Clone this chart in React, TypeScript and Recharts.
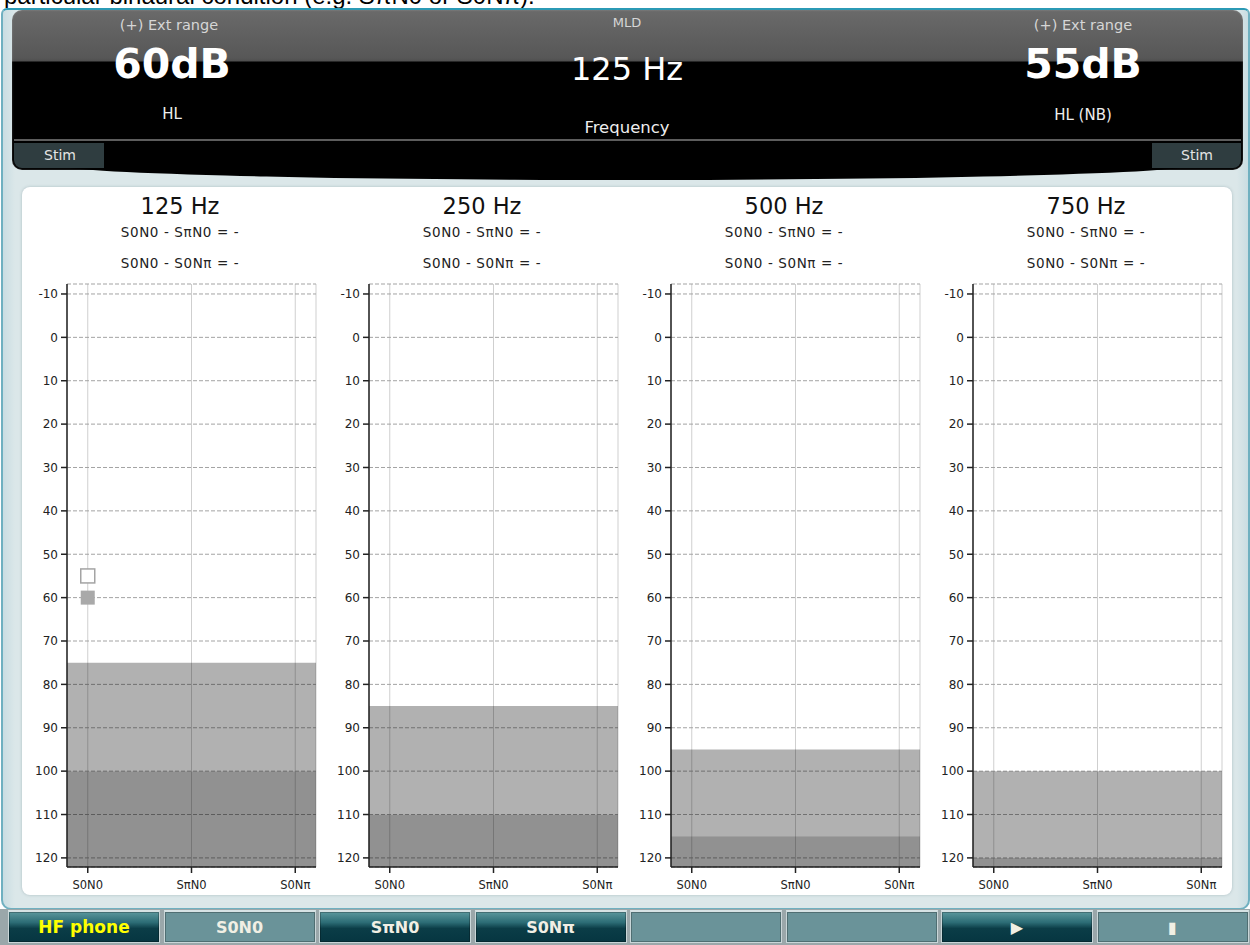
import React from 'react';
import { ComposedChart, XAxis, YAxis, CartesianGrid, ReferenceArea, Scatter } from 'recharts';

const topCaption = 'particular binaural condition (e.g. S\u03c0N0 or S0N\u03c0).';
const frequencies = ['125 Hz', '250 Hz', '500 Hz', '750 Hz'];
const conditions = ['S0N0', 'S\u03c0N0', 'S0N\u03c0'];
const conditionIndex = [0, 1, 2];
const dbTicks = [-10, 0, 10, 20, 30, 40, 50, 60, 70, 80, 90, 100, 110, 120];
const lightBandTop = [75, 85, 95, 100];
const darkBandTop = [100, 110, 115, 120];
const openMarkers = [[{ x: 0, y: 55 }], [], [], []];
const filledMarkers = [[{ x: 0, y: 60 }], [], [], []];
const mldSpiN0 = ['-', '-', '-', '-'];
const mldS0Npi = ['-', '-', '-', '-'];
const headerLeft = { top: '(+) Ext range', value: '60dB', unit: 'HL' };
const headerMid = { top: 'MLD', value: '125 Hz', unit: 'Frequency' };
const headerRight = { top: '(+) Ext range', value: '55dB', unit: 'HL (NB)' };
const buttonLabels = ['HF phone', 'S0N0', 'S\u03c0N0', 'S0N\u03c0', '', '', '\u25B6', '\u25AE'];
const buttonDark = [true, false, true, true, false, false, true, false];

const Y_DOMAIN: [number, number] = [-12.3, 122.1];
const FONT = '"DejaVu Sans", Verdana, sans-serif';

function Txt(props: any) {
  const { x, y, size, color = '#000', weight = 400, spacing = 0, family = FONT, children } = props;
  return (
    <div
      style={{
        position: 'absolute',
        left: x,
        top: y,
        transform: 'translate(-50%, -50%)',
        whiteSpace: 'nowrap',
        fontSize: size,
        color,
        fontWeight: weight,
        letterSpacing: spacing,
        fontFamily: family,
        lineHeight: 1,
      }}
    >
      {children}
    </div>
  );
}

const OpenSquare = (p: any) => (
  <rect x={p.cx - 7} y={p.cy - 7} width={14} height={14} fill="#fff" stroke="#a4a4a4" strokeWidth={1.5} />
);
const FilledSquare = (p: any) => (
  <rect x={p.cx - 7} y={p.cy - 7} width={14} height={14} fill="#a9a9a9" stroke="none" />
);

function MldChart({ i }: { i: number }) {
  return (
    <ComposedChart
      width={300}
      height={612}
      margin={{ top: 4, right: 6, bottom: 0, left: 0 }}
      style={{ fontFamily: FONT }}
    >
      <CartesianGrid horizontal={false} vertical={true} stroke="#cfcfcf" strokeWidth={1} />
      <CartesianGrid horizontal={true} vertical={false} stroke="#a3a3a3" strokeDasharray="4 2" />
      <XAxis
        type="number"
        dataKey="x"
        domain={[-0.2, 2.2]}
        ticks={conditionIndex}
        interval={0}
        allowDataOverflow
        tickFormatter={(v: number) => conditions[v]}
        height={25}
        tickSize={6}
        tickMargin={8}
        axisLine={{ stroke: '#222', strokeWidth: 1.5 }}
        tickLine={{ stroke: '#222', strokeWidth: 1.5 }}
        tick={{ fill: '#222', fontSize: 11.5, fontFamily: FONT }}
      />
      <YAxis
        type="number"
        dataKey="y"
        reversed
        domain={Y_DOMAIN}
        ticks={dbTicks}
        interval={0}
        allowDataOverflow
        width={45}
        tickSize={6}
        tickMargin={3}
        axisLine={{ stroke: '#222', strokeWidth: 1.5 }}
        tickLine={{ stroke: '#222', strokeWidth: 1.5 }}
        tick={{ fill: '#222', fontSize: 12, fontFamily: FONT }}
      />
      <ReferenceArea y1={lightBandTop[i]} y2={darkBandTop[i]} fill="#000" fillOpacity={0.305} stroke="none" ifOverflow="hidden" />
      <ReferenceArea y1={darkBandTop[i]} y2={Y_DOMAIN[1]} fill="#000" fillOpacity={0.43} stroke="none" ifOverflow="hidden" />
      <Scatter data={openMarkers[i]} shape={OpenSquare} isAnimationActive={false} />
      <Scatter data={filledMarkers[i]} shape={FilledSquare} isAnimationActive={false} />
    </ComposedChart>
  );
}

export default function App() {
  return (
    <div
      style={{
        position: 'absolute',
        left: 0,
        top: 0,
        width: 1250,
        height: 945,
        background: '#fff',
        overflow: 'hidden',
        fontFamily: FONT,
      }}
    >
      {/* clipped caption */}
      <div style={{ position: 'absolute', left: 0, top: 0, width: 1250, height: 8, overflow: 'hidden' }}>
        <div
          style={{
            position: 'absolute',
            left: 4,
            top: -16,
            fontFamily: '"Liberation Sans", Arial, sans-serif',
            fontSize: 24,
            lineHeight: 1,
            whiteSpace: 'nowrap',
            color: '#000',
          }}
        >
          {topCaption}
        </div>
      </div>

      {/* outer frame */}
      <div
        style={{
          position: 'absolute',
          left: 1,
          top: 8,
          width: 1245,
          height: 898,
          background: 'linear-gradient(to right, #c9dde2 0px, #dbe7e9 12px, #dbe7e9 1234px, #c9dde2 1245px)',
          border: '2px solid #6fb0c0',
          borderTopColor: '#2b9ab5',
          borderRadius: '6px 6px 10px 10px',
        }}
      />

      {/* header panel */}
      <div
        style={{
          position: 'absolute',
          left: 12,
          top: 10,
          width: 1231,
          height: 160,
          borderRadius: 10,
          background: 'linear-gradient(to bottom, #6a6a6a 0px, #575757 48px, #4f4f4f 51px, #000 52px, #000 100%)',
          boxShadow: 'inset 0 0 2px rgba(255,255,255,0.3)',
        }}
      />
      <div
        style={{
          position: 'absolute',
          left: 60,
          top: 150,
          width: 1130,
          height: 30,
          background: '#000',
          borderRadius: '0 0 50% 50%',
        }}
      />
      <div style={{ position: 'absolute', left: 14, top: 139, width: 1227, height: 2, background: '#5d5d5d' }} />
      <div
        style={{
          position: 'absolute',
          left: 14,
          top: 143,
          width: 90,
          height: 25,
          background: '#2f3d40',
          borderRadius: '0 0 0 8px',
        }}
      />
      <div
        style={{
          position: 'absolute',
          left: 1152,
          top: 143,
          width: 89,
          height: 25,
          background: '#2f3d40',
          borderRadius: '0 0 8px 0',
        }}
      />
      <Txt x={60} y={155} size={14} color="#e4e4e4">Stim</Txt>
      <Txt x={1197} y={155} size={14} color="#e4e4e4">Stim</Txt>

      <Txt x={169} y={25} size={14.5} color="#d6d6d6">{headerLeft.top}</Txt>
      <Txt x={172} y={64} size={41} color="#fff" weight={700}>{headerLeft.value}</Txt>
      <Txt x={172} y={114} size={15} color="#eee">{headerLeft.unit}</Txt>

      <Txt x={627} y={22} size={13} color="#d6d6d6">{headerMid.top}</Txt>
      <Txt x={627} y={69} size={32} color="#fff">{headerMid.value}</Txt>
      <Txt x={627} y={128} size={16.5} color="#eee">{headerMid.unit}</Txt>

      <Txt x={1083} y={25} size={14.5} color="#d6d6d6">{headerRight.top}</Txt>
      <Txt x={1083} y={64} size={41} color="#fff" weight={700}>{headerRight.value}</Txt>
      <Txt x={1083} y={115} size={15} color="#eee">{headerRight.unit}</Txt>

      {/* main white panel */}
      <div
        style={{
          position: 'absolute',
          left: 22,
          top: 187,
          width: 1210,
          height: 708,
          background: '#fff',
          borderRadius: 8,
          boxShadow: '0 0 3px rgba(80,110,120,0.35)',
        }}
      />

      {frequencies.map((f, i) => (
        <React.Fragment key={f}>
          <Txt x={180 + 302 * i} y={206} size={22.5} color="#111">{f}</Txt>
          <Txt x={180 + 302 * i} y={233} size={13.5} color="#222" spacing={0.6}>
            {'S0N0 - S\u03c0N0 = ' + mldSpiN0[i]}
          </Txt>
          <Txt x={180 + 302 * i} y={264} size={13.5} color="#222" spacing={0.6}>
            {'S0N0 - S0N\u03c0 = ' + mldS0Npi[i]}
          </Txt>
          <div style={{ position: 'absolute', left: 22 + 302 * i, top: 280 }}>
            <MldChart i={i} />
          </div>
        </React.Fragment>
      ))}

      {/* bottom button bar */}
      <div style={{ position: 'absolute', left: 0, top: 909, width: 1250, height: 36, background: '#9aa7aa' }} />
      {buttonLabels.map((b, i) => {
        const left = 8 + i * 155.5;
        const dark = buttonDark[i];
        return (
          <div
            key={i}
            style={{
              position: 'absolute',
              left,
              top: 910,
              width: 152,
              height: 33,
              boxSizing: 'border-box',
              border: '1px solid #c9d6d8',
              borderTop: '2px solid #d6e2e4',
              background: dark
                ? 'linear-gradient(to bottom, #5a979d 0%, #2c6c75 35%, #0b3d47 55%, #063641 100%)'
                : '#6a9399',
              display: 'flex',
              alignItems: 'center',
              justifyContent: 'center',
              color: i === 0 ? '#ffff00' : '#f1efe4',
              fontWeight: 700,
              fontSize: i === 0 ? 17 : 16,
              fontFamily: '"DejaVu Sans", Verdana, sans-serif',
              boxShadow: 'inset 0 0 0 1px rgba(0,0,0,0.25)',
            }}
          >
            {b}
          </div>
        );
      })}
    </div>
  );
}
